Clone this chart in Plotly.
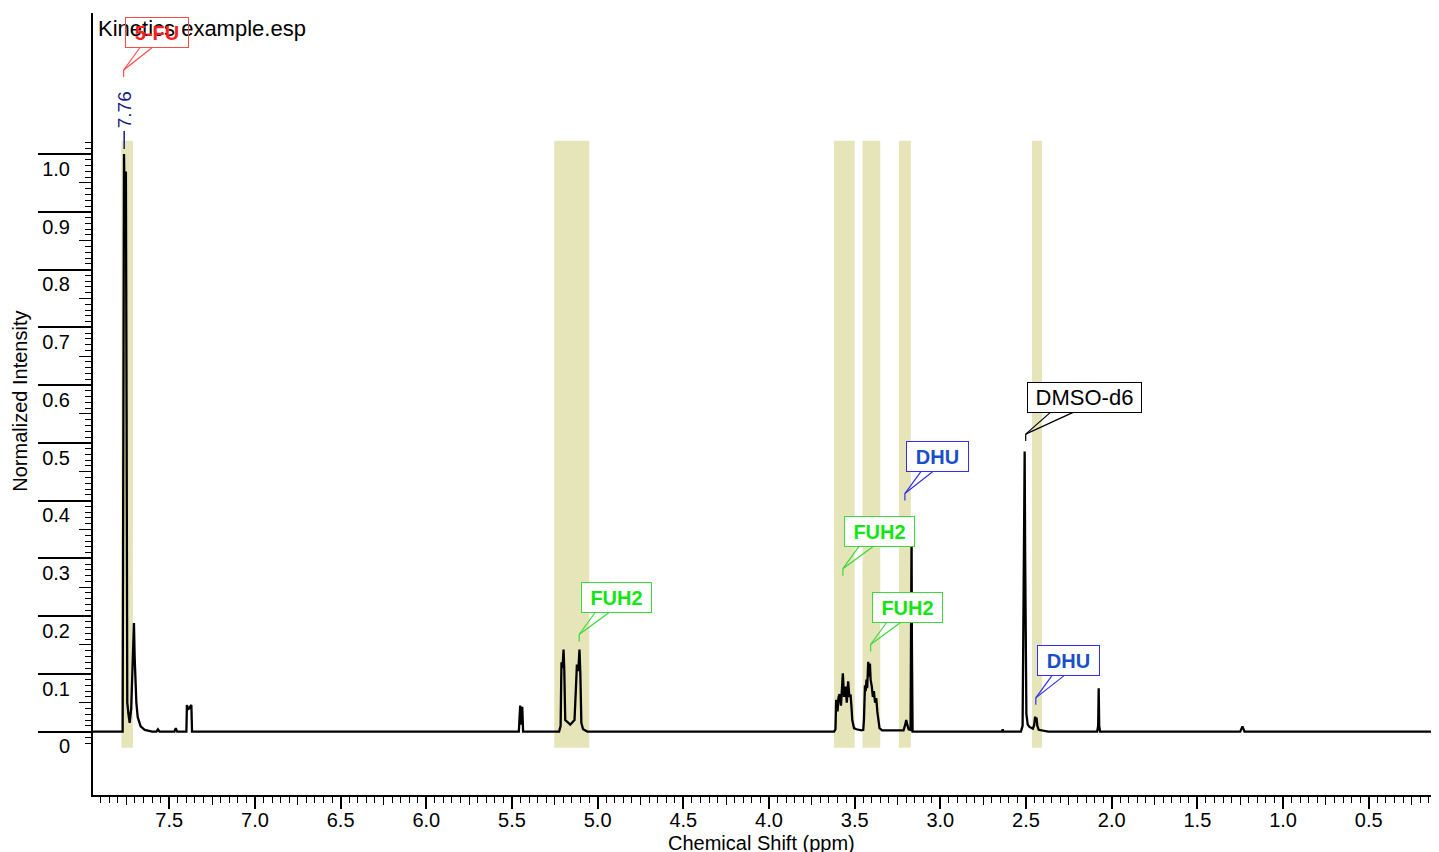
import plotly.graph_objects as go

# ---------------- data ----------------
shift_ppm = [
    7.945, 7.80, 7.772, 7.768, 7.764, 7.759, 7.753, 7.749, 7.745, 7.738, 7.731, 7.722,
    7.713, 7.706, 7.702, 7.699, 7.692, 7.684, 7.667, 7.643, 7.60, 7.575, 7.566, 7.557,
    7.47, 7.462, 7.454, 7.40, 7.397, 7.390, 7.384, 7.371, 7.367,
    5.46, 5.452, 5.446, 5.440, 5.435,
    5.225, 5.216, 5.213, 5.211, 5.205, 5.199, 5.195, 5.189, 5.16, 5.135, 5.126, 5.121,
    5.113, 5.106, 5.101, 5.095, 5.085, 5.06,
    3.62, 3.612, 3.608, 3.600, 3.594, 3.588, 3.580, 3.574, 3.569, 3.562, 3.553, 3.546,
    3.538, 3.531, 3.524, 3.518, 3.514, 3.504, 3.49, 3.46,
    3.45, 3.446, 3.440, 3.436, 3.431, 3.427, 3.421, 3.417, 3.411, 3.407, 3.400, 3.394,
    3.388, 3.381, 3.374, 3.368, 3.363, 3.355, 3.34,
    3.215, 3.205, 3.199, 3.193, 3.185, 3.174, 3.170, 3.168, 3.166, 3.162,
    2.64, 2.636, 2.632,
    2.53, 2.520, 2.517, 2.514, 2.511, 2.508, 2.505, 2.502, 2.498, 2.49, 2.48, 2.46,
    2.452, 2.447, 2.443, 2.439, 2.434, 2.426, 2.40, 2.37,
    2.085, 2.079, 2.076, 2.073, 2.068,
    1.25, 1.237, 1.225, 0.09,
]
intensity = [
    0.0, 0.0, 0.0, 0.5, 1.0, 0.88, 0.97, 0.55, 0.05, 0.03, 0.015, 0.04,
    0.12, 0.188, 0.13, 0.098, 0.05, 0.025, 0.009, 0.003, 0.0, 0.0, 0.004, 0.0,
    0.0, 0.006, 0.0, 0.0, 0.046, 0.038, 0.040, 0.046, 0.0,
    0.0, 0.045, 0.012, 0.043, 0.0,
    0.0, 0.01, 0.08, 0.12, 0.11, 0.142, 0.11, 0.02, 0.012, 0.02, 0.08, 0.116,
    0.105, 0.142, 0.1, 0.015, 0.004, 0.0,
    0.0, 0.004, 0.055, 0.035, 0.06, 0.065, 0.045, 0.08, 0.101, 0.06, 0.078, 0.05,
    0.087, 0.06, 0.064, 0.04, 0.02, 0.006, 0.004, 0.002,
    0.003, 0.02, 0.08, 0.07, 0.09, 0.075, 0.121, 0.095, 0.118, 0.09, 0.078, 0.06,
    0.07, 0.05, 0.058, 0.035, 0.026, 0.006, 0.002,
    0.002, 0.012, 0.02, 0.012, 0.004, 0.003, 0.15, 0.345, 0.15, 0.0,
    0.0, 0.004, 0.0,
    0.0, 0.01, 0.1, 0.2, 0.379, 0.485, 0.3, 0.1, 0.03, 0.012, 0.008, 0.005,
    0.012, 0.026, 0.018, 0.024, 0.01, 0.003, 0.002, 0.0,
    0.0, 0.01, 0.075, 0.01, 0.0,
    0.0, 0.009, 0.0, 0.0,
]

# integration regions (ppm)
region_start = [7.779, 5.253, 3.621, 3.454, 3.242, 2.465]
region_end = [7.712, 5.049, 3.500, 3.351, 3.172, 2.407]
region_low = -0.028
region_high = 1.023

# compound callouts
callout_labels = ["5-FU", "FUH2", "FUH2", "FUH2", "DHU", "DMSO-d6", "DHU"]
callout_ppm = [7.766, 5.108, 3.569, 3.407, 3.207, 2.502, 2.443]
callout_int = [1.1335, 0.156, 0.270, 0.1387, 0.400, 0.503, 0.0463]

# peak picking label
peak_label_text = ["7.76"]
peak_label_ppm = [7.763]
peak_label_int = [1.0087]

# ticks
y_tick_vals = [0.0, 0.1, 0.2, 0.3, 0.4, 0.5, 0.6, 0.7, 0.8, 0.9, 1.0]
y_tick_text = ["0", "0.1", "0.2", "0.3", "0.4", "0.5", "0.6", "0.7", "0.8", "0.9", "1.0"]
y_mid_vals = [0.05, 0.15, 0.25, 0.35, 0.45, 0.55, 0.65, 0.75, 0.85, 0.95]
y_minor_vals = [round(-0.02 + 0.01 * i, 2) for i in range(105)]
x_tick_vals = [7.5, 7.0, 6.5, 6.0, 5.5, 5.0, 4.5, 4.0, 3.5, 3.0, 2.5, 2.0, 1.5, 1.0, 0.5]
x_tick_text = ["7.5", "7.0", "6.5", "6.0", "5.5", "5.0", "4.5", "4.0", "3.5", "3.0", "2.5",
               "2.0", "1.5", "1.0", "0.5"]
x_mid_vals = [7.75, 7.25, 6.75, 6.25, 5.75, 5.25, 4.75, 4.25, 3.75, 3.25, 2.75, 2.25,
              1.75, 1.25, 0.75, 0.25]
x_minor_vals = [round(7.95 - 0.05 * i, 2) for i in range(158)]

x_range = [7.945, 0.09]
y_range = [-0.1098, 1.2443]

# ---------------- styles ----------------
FONT = "Liberation Sans, Arial, Helvetica, sans-serif"
style = {
    "5-FU": dict(color="#ff1e1e", border="#ff4a4a", bold=True, size=20, w=63, bg="rgba(0,0,0,0)", wl=14, wr=26),
    "FUH2": dict(color="#12e612", border="#3ad83a", bold=True, size=20, w=70, bg="white", wl=14, wr=28),
    "DHU": dict(color="#1b4fc8", border="#3030f0", bold=True, size=20, w=62, bg="white", wl=14, wr=26),
    "DMSO-d6": dict(color="#000000", border="#000000", bold=False, size=22, w=114, bg="white", wl=23, wr=46),
}
BOX_H = 30
SEG = 7      # vertical stem
GAP = 29     # stem bottom to box bottom

fig = go.Figure()

fig.add_trace(go.Scatter(
    x=shift_ppm, y=intensity, mode="lines",
    line=dict(color="black", width=2.3), showlegend=False, hoverinfo="x+y",
))
# helper trace so the overlay tick axes are drawn
fig.add_trace(go.Scatter(
    x=[x_range[0]], y=[0], xaxis="x2", yaxis="y2", mode="markers",
    marker=dict(opacity=0), showlegend=False, hoverinfo="skip",
))

shapes = []
for x0, x1 in zip(region_start, region_end):
    shapes.append(dict(type="rect", xref="x", yref="y", x0=x0, x1=x1,
                       y0=region_low, y1=region_high, fillcolor="rgb(230,229,186)",
                       line=dict(width=0), layer="below"))

annotations = []
# title first so the 5-FU callout text is drawn over it
annotations.append(dict(x=0.0022, y=0.9808, xref="paper", yref="paper", xanchor="left",
                        yanchor="middle", showarrow=False, text="Kinetics example.esp",
                        font=dict(family=FONT, size=22, color="black")))

for lab, px, py in zip(callout_labels, callout_ppm, callout_int):
    s = style[lab]
    common = dict(type="line", xref="x", yref="y", xsizemode="pixel", ysizemode="pixel",
                  xanchor=px, yanchor=py, line=dict(color=s["border"], width=1.2))
    shapes.append(dict(common, x0=0, y0=0, x1=0, y1=SEG))
    shapes.append(dict(common, x0=0, y0=SEG, x1=2 + s["wl"], y1=GAP))
    shapes.append(dict(common, x0=0, y0=SEG, x1=2 + s["wr"], y1=GAP))
    txt = f"<b>{lab}</b>" if s["bold"] else lab
    annotations.append(dict(
        x=px, y=py, xref="x", yref="y", text=txt, showarrow=False,
        xanchor="center", yanchor="middle",
        xshift=2 + s["w"] / 2, yshift=GAP + BOX_H / 2,
        width=s["w"] - 1, height=BOX_H - 1, borderpad=0, borderwidth=1,
        bordercolor=s["border"], bgcolor=s["bg"],
        font=dict(family=FONT, size=s["size"], color=s["color"]),
    ))

for t, px, py in zip(peak_label_text, peak_label_ppm, peak_label_int):
    shapes.append(dict(type="line", xref="x", yref="y", xsizemode="pixel", ysizemode="pixel",
                       xanchor=px, yanchor=py, x0=0, y0=0, x1=0, y1=18,
                       line=dict(color="#1a1a80", width=1.5)))
    annotations.append(dict(
        x=px, y=py, xref="x", yref="y", text=t, showarrow=False, textangle=-90,
        xanchor="center", yanchor="middle", yshift=39, xshift=0,
        font=dict(family=FONT, size=19, color="#1a1a80"),
    ))

# axis titles
annotations.append(dict(x=0.4963, y=-0.0615, xref="paper", yref="paper", xanchor="center",
                        yanchor="middle", showarrow=False, text="Chemical Shift (ppm)",
                        font=dict(family=FONT, size=20, color="black")))
annotations.append(dict(x=-0.0542, y=0.503, xref="paper", yref="paper", xanchor="center",
                        yanchor="middle", showarrow=False, text="Normalized Intensity",
                        textangle=-90, font=dict(family=FONT, size=20, color="black")))

# the page body adds an 8px offset, so the figure is sized to fit the window
fig.update_layout(
    template="none",
    width=1431, height=844,
    margin=dict(l=85, r=0, t=5, b=57, autoexpand=False),
    paper_bgcolor="white", plot_bgcolor="white",
    font=dict(family=FONT, size=20, color="black"),
    shapes=shapes, annotations=annotations, showlegend=False,
    xaxis=dict(
        range=x_range, showgrid=False, zeroline=False, automargin=False,
        showline=True, linecolor="black", linewidth=2,
        ticks="outside", tickmode="array", tickvals=x_tick_vals, ticktext=x_tick_text,
        ticklen=12, tickwidth=1.5, tickcolor="black", ticklabelstandoff=-6,
        tickfont=dict(family=FONT, size=20, color="black"),
        minor=dict(tickmode="array", tickvals=x_minor_vals, ticks="outside",
                   ticklen=6, tickwidth=1.2, tickcolor="black", showgrid=False),
    ),
    xaxis2=dict(
        range=x_range, overlaying="x", side="bottom", anchor="y2", showgrid=False,
        zeroline=False, showline=False, ticks="outside", tickmode="array", automargin=False,
        tickvals=x_mid_vals, ticklen=9, tickwidth=1.2, tickcolor="black",
        showticklabels=False,
    ),
    yaxis=dict(
        range=y_range, showgrid=False, zeroline=False, automargin=False,
        showline=True, linecolor="black", linewidth=2,
        ticks="outside", tickmode="array", tickvals=y_tick_vals, ticktext=y_tick_text,
        ticklen=53, tickwidth=1.5, tickcolor="black",
        ticklabelposition="outside bottom", ticklabelstandoff=17,
        tickfont=dict(family=FONT, size=20, color="black"),
        minor=dict(tickmode="array", tickvals=y_minor_vals, ticks="outside",
                   ticklen=6, tickwidth=1.2, tickcolor="black", showgrid=False),
    ),
    yaxis2=dict(
        range=y_range, overlaying="y", side="left", anchor="x2", showgrid=False,
        zeroline=False, showline=False, ticks="outside", tickmode="array", automargin=False,
        tickvals=y_mid_vals, ticklen=13, tickwidth=1.2, tickcolor="black",
        showticklabels=False,
    ),
)

fig.write_html("out.html")
